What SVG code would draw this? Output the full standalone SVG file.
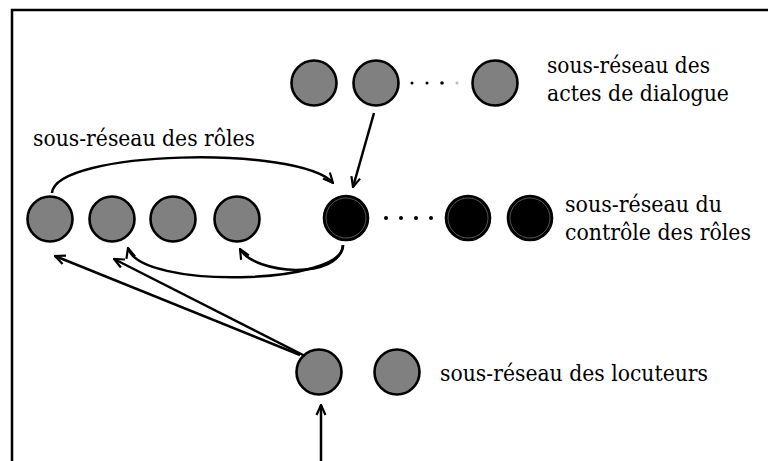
<svg xmlns="http://www.w3.org/2000/svg" width="768" height="461" viewBox="0 0 768 461">
<style>
.g{fill:#808080;stroke:#000;stroke-width:2.6}
.b{fill:#000;stroke:#000;stroke-width:2.6}
.ring{fill:none;stroke:#777;stroke-width:0.7}
.c{fill:none;stroke:#000;stroke-width:2.5}
.t{font-family:'DejaVu Serif','Liberation Serif',serif;font-size:22px;fill:#000}
</style>
<defs>
<marker id="ah" viewBox="0 0 12 12" refX="11" refY="6" markerWidth="12" markerHeight="12" markerUnits="userSpaceOnUse" orient="auto">
<path d="M1,1.5 L11,6 L1,10.5" fill="none" stroke="#000" stroke-width="2.2"/>
</marker>
</defs>
<rect width="768" height="461" fill="#fff"/>
<path d="M12,461 V10 H768" fill="none" stroke="#000" stroke-width="2.5"/>

<g id="actes">
<circle class="g" cx="314" cy="83" r="22.5"/>
<circle class="g" cx="376" cy="83" r="22.5"/>
<circle cx="412" cy="83" r="1.5"/>
<circle cx="427" cy="83" r="1.5"/>
<circle cx="442" cy="83" r="1.8"/>
<circle cx="457" cy="83" r="1.5" fill="#bbb"/>
<circle class="g" cx="495" cy="83" r="22.5"/>
<text class="t" x="547" y="73" textLength="163" lengthAdjust="spacingAndGlyphs">sous-réseau des</text>
<text class="t" x="547" y="101" textLength="182" lengthAdjust="spacingAndGlyphs">actes de dialogue</text>
</g>

<g id="roles">
<circle class="g" cx="50" cy="219" r="22.5"/>
<circle class="g" cx="112" cy="219" r="22.5"/>
<circle class="g" cx="173" cy="219" r="22.5"/>
<circle class="g" cx="237" cy="219" r="22.5"/>
<text class="t" x="33" y="146" textLength="222" lengthAdjust="spacingAndGlyphs">sous-réseau des rôles</text>
</g>

<g id="controle">
<circle class="b" cx="346" cy="218" r="22"/>
<circle class="ring" cx="346" cy="218" r="20"/>
<circle cx="386" cy="218" r="2"/>
<circle cx="401" cy="218" r="2"/>
<circle cx="416" cy="218" r="2"/>
<circle cx="431" cy="218" r="2"/>
<circle class="b" cx="468" cy="218" r="22"/>
<circle class="ring" cx="468" cy="218" r="20"/>
<circle class="b" cx="530" cy="218" r="22"/>
<circle class="ring" cx="530" cy="218" r="20"/>
<text class="t" x="565" y="212" textLength="157" lengthAdjust="spacingAndGlyphs">sous-réseau du</text>
<text class="t" x="565" y="240" textLength="186" lengthAdjust="spacingAndGlyphs">contrôle des rôles</text>
</g>

<g id="locuteurs">
<circle class="g" cx="319" cy="372" r="22.5"/>
<circle class="g" cx="397" cy="372" r="22.5"/>
<text class="t" x="440" y="381" textLength="268" lengthAdjust="spacingAndGlyphs">sous-réseau des locuteurs</text>
</g>

<g id="connectors">
<path class="c" d="M374,113 L353,187" marker-end="url(#ah)"/>
<path class="c" d="M52,193 C55,150 300,145 333,183" marker-end="url(#ah)"/>
<path class="c" d="M343,245 C345,285 140,290 128,248" marker-end="url(#ah)"/>
<path class="c" d="M343,245 C340,280 255,275 240,249" marker-end="url(#ah)"/>
<path class="c" d="M300,355 L55,256" marker-end="url(#ah)"/>
<path class="c" d="M305,356 L114,259" marker-end="url(#ah)"/>
<path class="c" d="M321,461 L321,405" marker-end="url(#ah)"/>
</g>
</svg>
